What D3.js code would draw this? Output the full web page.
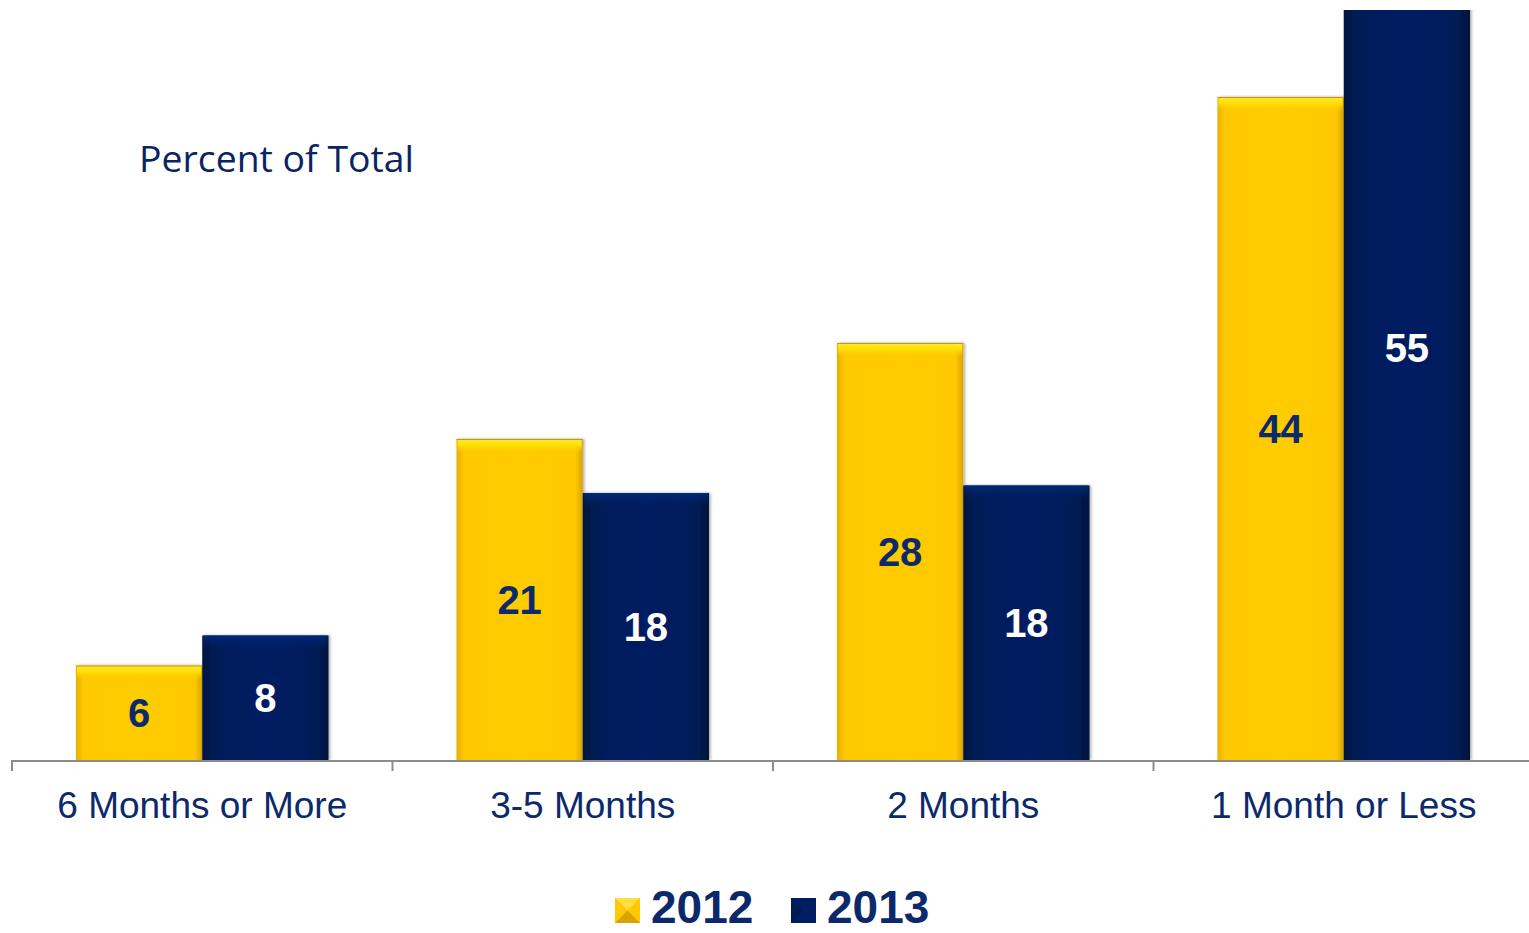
<!DOCTYPE html>
<html><head><meta charset="utf-8">
<script src="https://cdn.jsdelivr.net/npm/d3@7"></script>
<style>html,body{margin:0;padding:0;background:#fff;overflow:hidden}</style>
</head><body><svg id="c" width="1529" height="933"></svg>
<script>
const categories = ["6 Months or More", "3-5 Months", "2 Months", "1 Month or Less"];
const seriesNames = ["2012", "2013"];
// values; labels show rounded values
const values2012 = [6.3, 21.4, 27.8, 44.2];
const values2013 = [8.3, 17.8, 18.3, 55.0];
const yDomain = [0, 50];

const svg = d3.select("#c");
const W = 1529, H = 933;
const plotTop = 10, base = 760;
const navyText = "#0C2A6B";
const fmt = d3.format(".0f");

const x0 = d3.scaleBand().domain(categories).range([12, 1534]).paddingInner(0).paddingOuter(0);
const x1 = d3.scaleBand().domain(seriesNames).range([64, x0.bandwidth() - 64]).padding(0);
const y = d3.scaleLinear().domain(yDomain).range([base, plotTop]);

const defs = svg.append("defs");
const gy = defs.append("linearGradient").attr("id", "gy").attr("x1", 0).attr("x2", 1).attr("y1", 0).attr("y2", 0);
[["0%", "#E8B000"], ["6%", "#FFC800"], ["50%", "#FFCC00"], ["94%", "#FFC800"], ["100%", "#D8A400"]].forEach(s => gy.append("stop").attr("offset", s[0]).attr("stop-color", s[1]));
const gn = defs.append("linearGradient").attr("id", "gn").attr("x1", 0).attr("x2", 1).attr("y1", 0).attr("y2", 0);
[["0%", "#001540"], ["8%", "#001B52"], ["20%", "#001D5C"], ["50%", "#001E62"], ["80%", "#001D5C"], ["92%", "#001B52"], ["100%", "#00123A"]].forEach(s => gn.append("stop").attr("offset", s[0]).attr("stop-color", s[1]));
const gtop = defs.append("linearGradient").attr("id", "gtop").attr("x1", 0).attr("x2", 0).attr("y1", 0).attr("y2", 1);
[["0%", "#FFE640", 1], ["45%", "#FFE000", 1], ["100%", "#FFCC00", 0]].forEach(s => gtop.append("stop").attr("offset", s[0]).attr("stop-color", s[1]).attr("stop-opacity", s[2]));
const gtopn = defs.append("linearGradient").attr("id", "gtopn").attr("x1", 0).attr("x2", 0).attr("y1", 0).attr("y2", 1);
[["0%", "#002A78", 1], ["100%", "#001E62", 0]].forEach(s => gtopn.append("stop").attr("offset", s[0]).attr("stop-color", s[1]).attr("stop-opacity", s[2]));
defs.append("clipPath").attr("id", "plotclip").append("rect").attr("x", 0).attr("y", plotTop).attr("width", W).attr("height", base - plotTop + 1);
const f = defs.append("filter").attr("id", "sh").attr("x", "-10%").attr("y", "-10%").attr("width", "130%").attr("height", "130%");
f.append("feDropShadow").attr("dx", 1.5).attr("dy", 0).attr("stdDeviation", 1.5).attr("flood-color", "#000").attr("flood-opacity", 0.35);

// title
svg.append("text").attr("x", 139).attr("y", 172).attr("font-family", "'Open Sans', sans-serif")
  .attr("font-size", 36).attr("fill", "#0A2463").attr("textLength", 275).attr("lengthAdjust", "spacingAndGlyphs").text("Percent of Total");

const data = categories.map((c, i) => ({ cat: c, vals: [{ s: "2012", v: values2012[i] }, { s: "2013", v: values2013[i] }] }));

const bars = svg.append("g").attr("clip-path", "url(#plotclip)");
const groups = bars.selectAll("g.grp").data(data).join("g").attr("class", "grp")
  .attr("transform", d => `translate(${x0(d.cat)},0)`);

groups.selectAll("rect.bar").data(d => d.vals).join("rect").attr("class", "bar")
  .attr("x", d => x1(d.s)).attr("width", x1.bandwidth())
  .attr("y", d => y(d.v)).attr("height", d => base - y(d.v))
  .attr("fill", d => d.s === "2012" ? "url(#gy)" : "url(#gn)")
  .attr("filter", "url(#sh)");
groups.selectAll("rect.hl").data(d => d.vals).join("rect").attr("class", "hl")
  .attr("x", d => x1(d.s) + 1).attr("width", x1.bandwidth() - 2)
  .attr("y", d => y(d.v)).attr("height", 14)
  .attr("fill", d => d.s === "2012" ? "url(#gtop)" : "url(#gtopn)");
groups.selectAll("line.tl").data(d => d.vals.filter(v => v.s === "2012")).join("line").attr("class", "tl")
  .attr("x1", d => x1(d.s)).attr("x2", d => x1(d.s) + x1.bandwidth())
  .attr("y1", d => y(d.v) + 0.5).attr("y2", d => y(d.v) + 0.5)
  .attr("stroke", "#C89A00").attr("stroke-width", 1);

// value labels at middle of (unclipped) bar
groups.selectAll("text.val").data(d => d.vals).join("text").attr("class", "val")
  .attr("x", d => x1(d.s) + x1.bandwidth() / 2)
  .attr("y", d => (y(d.v) + base) / 2)
  .attr("dy", "0.36em").attr("text-anchor", "middle")
  .attr("font-family", "'Liberation Sans', Arial, sans-serif").attr("font-weight", "bold").attr("font-size", 40)
  .attr("fill", d => d.s === "2012" ? navyText : "#FFFFFF").text(d => fmt(d.v));

// axis
const axis = d3.axisBottom(x0).tickSize(0).tickPadding(0);
const ax = svg.append("g").attr("transform", `translate(0,${base + 1})`).call(axis);
ax.select(".domain").remove();
ax.selectAll(".tick text").attr("y", 0).attr("dy", 0).attr("transform", "translate(0,57)")
  .attr("font-family", "'Liberation Sans', Arial, sans-serif").attr("font-size", 37).attr("fill", navyText);
svg.append("line").attr("x1", 12).attr("x2", W).attr("y1", base + 1).attr("y2", base + 1).attr("stroke", "#8C8C8C").attr("stroke-width", 2);
const bounds = categories.map(c => x0(c));
svg.selectAll("line.sep").data(bounds).join("line").attr("class", "sep")
  .attr("x1", d => d).attr("x2", d => d).attr("y1", base).attr("y2", base + 11)
  .attr("stroke", "#8C8C8C").attr("stroke-width", 2);

// legend
const legX = [615, 791];
const lg = svg.selectAll("g.leg").data(seriesNames).join("g").attr("class", "leg")
  .attr("transform", (d, i) => `translate(${legX[i]},898)`);
lg.append("rect").attr("width", 25).attr("height", 25)
  .attr("fill", d => d === "2012" ? "#FFC800" : "#001E62");
lg.filter(d => d === "2012").append("path").attr("d", "M0,0L25,0L12.5,12.5Z").attr("fill", "#FFDE40");
lg.filter(d => d === "2012").append("path").attr("d", "M0,25L25,25L12.5,12.5Z").attr("fill", "#D9A300");
lg.filter(d => d === "2013").append("path").attr("d", "M0,0L12.5,12.5L0,25Z").attr("fill", "#001A55");
lg.append("text").attr("x", 36).attr("y", 25)
  .attr("font-family", "'Liberation Sans', Arial, sans-serif").attr("font-weight", "bold").attr("font-size", 46)
  .attr("fill", navyText).text(d => d);
</script></body></html>
